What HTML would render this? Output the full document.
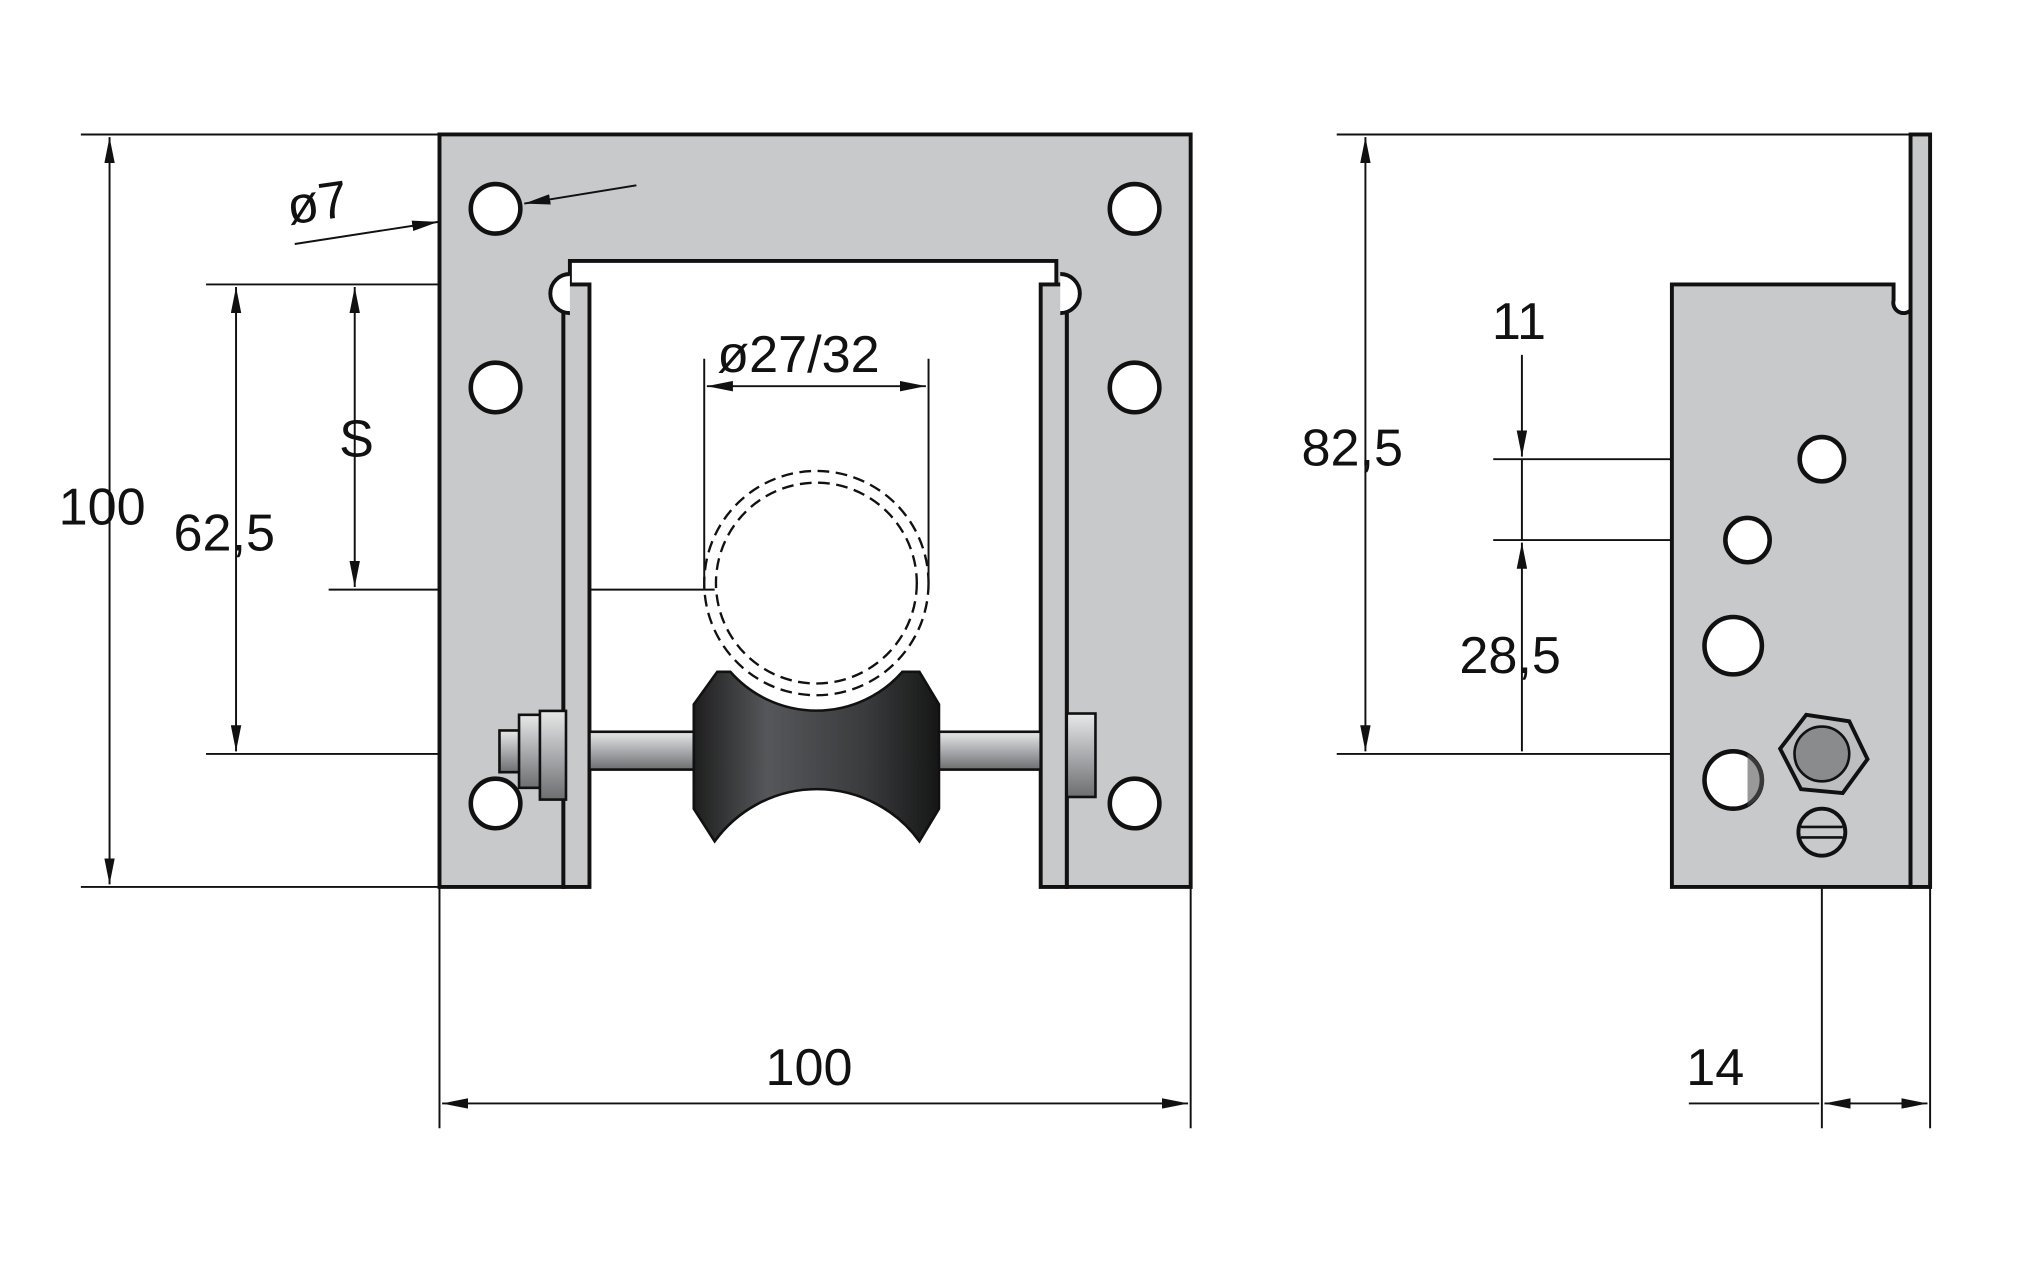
<!DOCTYPE html>
<html><head><meta charset="utf-8"><style>
html,body{margin:0;padding:0;background:#fff;width:2024px;height:1264px;overflow:hidden}
svg{display:block}
text{font-family:"Liberation Sans",sans-serif;font-size:40px;fill:#111}
</style></head><body>
<svg width="2024" height="1264" viewBox="0 0 1552 969" xmlns="http://www.w3.org/2000/svg">
<defs>
<marker id="a" viewBox="0 0 20 8" refX="20" refY="4" markerWidth="20" markerHeight="8" orient="auto-start-reverse" markerUnits="userSpaceOnUse"><path d="M0,0 L20,4 L0,8 z" fill="#111"/></marker>
<linearGradient id="sh" x1="0" y1="0" x2="0" y2="1"><stop offset="0" stop-color="#e8e8e8"/><stop offset="0.5" stop-color="#a9abae"/><stop offset="1" stop-color="#6c6e70"/></linearGradient>
<linearGradient id="rl" x1="0" y1="0" x2="1" y2="0"><stop offset="0" stop-color="#1e1e1e"/><stop offset="0.3" stop-color="#55575a"/><stop offset="0.7" stop-color="#3a3b3d"/><stop offset="1" stop-color="#161616"/></linearGradient>
</defs>
<g stroke="#111" stroke-width="1.5" fill="none">
<line x1="62" y1="103" x2="337" y2="103"/><line x1="62" y1="680" x2="337" y2="680"/>
<line x1="158" y1="218" x2="432" y2="218"/><line x1="158" y1="578" x2="395" y2="578"/>
<line x1="252" y1="452" x2="548" y2="452"/>
<line x1="337" y1="680" x2="337" y2="865"/><line x1="913" y1="680" x2="913" y2="865"/>
<line x1="540" y1="275" x2="540" y2="452"/><line x1="712" y1="275" x2="712" y2="452"/>
<line x1="1025" y1="103" x2="1465" y2="103"/><line x1="1025" y1="578" x2="1397" y2="578"/>
<line x1="1145" y1="352" x2="1397" y2="352"/><line x1="1145" y1="414" x2="1340" y2="414"/>
<line x1="1397" y1="578" x2="1397" y2="865"/><line x1="1480" y1="680" x2="1480" y2="865"/>
</g>
<path d="M337,103 H913 V680 H818 V218 H810 V200 H437 V218 H432 V680 H337 Z" fill="#c8c9cb" stroke="#111" stroke-width="3"/>
<rect x="432" y="218" width="20" height="462" fill="#c8c9cb" stroke="#111" stroke-width="3"/>
<rect x="798" y="218" width="20" height="462" fill="#c8c9cb" stroke="#111" stroke-width="3"/>
<path d="M437,210 a9,9 0 1 0 0,30" fill="#fff" stroke="#111" stroke-width="3"/>
<path d="M813,210 a9,9 0 1 1 0,30" fill="#fff" stroke="#111" stroke-width="3"/>
<g fill="#fff" stroke="#111" stroke-width="3.5">
<circle cx="380" cy="160" r="19"/><circle cx="870" cy="160" r="19"/>
<circle cx="380" cy="297" r="19"/><circle cx="870" cy="297" r="19"/>
<circle cx="380" cy="616" r="19"/><circle cx="870" cy="616" r="19"/>
</g>
<g fill="none" stroke="#111" stroke-width="1.8" stroke-dasharray="9,5">
<circle cx="626" cy="447" r="86"/><circle cx="626" cy="447" r="77"/>
</g>
<rect x="452" y="561" width="346" height="29" fill="url(#sh)" stroke="#111" stroke-width="2"/>
<rect x="383" y="560" width="20" height="32" fill="url(#sh)" stroke="#111" stroke-width="2"/>
<rect x="398" y="548" width="18" height="56" fill="url(#sh)" stroke="#111" stroke-width="2"/>
<rect x="414" y="545" width="20" height="68" fill="url(#sh)" stroke="#111" stroke-width="2"/>
<rect x="818" y="547" width="22" height="64" fill="url(#sh)" stroke="#111" stroke-width="2"/>
<path d="M550,515 H560 A88,88 0 0 0 692,515 H705 L720,540 V620 L705,645 H705 A97,97 0 0 0 548,645 L532,620 V540 Z" fill="url(#rl)" stroke="#111" stroke-width="2"/>
<g stroke="#111" stroke-width="1.5">
<line x1="84" y1="105" x2="84" y2="678" marker-start="url(#a)" marker-end="url(#a)"/>
<line x1="181" y1="220" x2="181" y2="576" marker-start="url(#a)" marker-end="url(#a)"/>
<line x1="272" y1="220" x2="272" y2="450" marker-start="url(#a)" marker-end="url(#a)"/>
<line x1="542" y1="296" x2="710" y2="296" marker-start="url(#a)" marker-end="url(#a)"/>
<line x1="339" y1="846" x2="911" y2="846" marker-start="url(#a)" marker-end="url(#a)"/>
<line x1="226" y1="187" x2="336" y2="170" marker-end="url(#a)"/>
<line x1="488" y1="142" x2="402" y2="156" marker-end="url(#a)"/>
</g>
<text x="45" y="402">100</text>
<text x="133" y="422">62,5</text>
<text x="260" y="350">S</text>
<text x="550" y="285">ø27/32</text>
<text x="587" y="832">100</text>
<text x="222" y="172" transform="rotate(-8 222 172)">ø7</text>
<path d="M1282,218 H1452 V230 a8,8 0 0 0 13,8 V680 H1282 Z" fill="#c8c9cb" stroke="#111" stroke-width="3"/>
<rect x="1465" y="103" width="15" height="577" fill="#c8c9cb" stroke="#111" stroke-width="3"/>
<g fill="#fff" stroke="#111" stroke-width="3.5">
<circle cx="1397" cy="352" r="17"/><circle cx="1340" cy="414" r="17"/>
<circle cx="1329" cy="495" r="22"/><circle cx="1329" cy="598" r="22"/>
</g>
<path d="M1340,578 a22,22 0 0 1 0,40" fill="#555" opacity="0.6"/>
<polygon points="1385,548 1418,553 1432,582 1413,608 1381,605 1365,574" fill="#bdbec0" stroke="#111" stroke-width="3"/>
<circle cx="1397" cy="578" r="21" fill="#8a8b8d" stroke="#111" stroke-width="2"/>
<circle cx="1397" cy="638" r="18" fill="#c8c9cb" stroke="#111" stroke-width="3"/>
<line x1="1381" y1="634" x2="1413" y2="634" stroke="#111" stroke-width="2"/><line x1="1381" y1="642" x2="1413" y2="642" stroke="#111" stroke-width="2"/>
<g stroke="#111" stroke-width="1.5">
<line x1="1047" y1="105" x2="1047" y2="576" marker-start="url(#a)" marker-end="url(#a)"/>
<line x1="1167" y1="272" x2="1167" y2="350" marker-end="url(#a)"/>
<line x1="1167" y1="352" x2="1167" y2="414"/>
<line x1="1167" y1="576" x2="1167" y2="416" marker-end="url(#a)"/>
<line x1="1295" y1="846" x2="1395" y2="846"/>
<line x1="1399" y1="846" x2="1478" y2="846" marker-start="url(#a)" marker-end="url(#a)"/>
</g>
<text x="998" y="357">82,5</text>
<text x="1144" y="260">11</text>
<text x="1119" y="516">28,5</text>
<text x="1293" y="832">14</text>
</svg>
</body></html>
